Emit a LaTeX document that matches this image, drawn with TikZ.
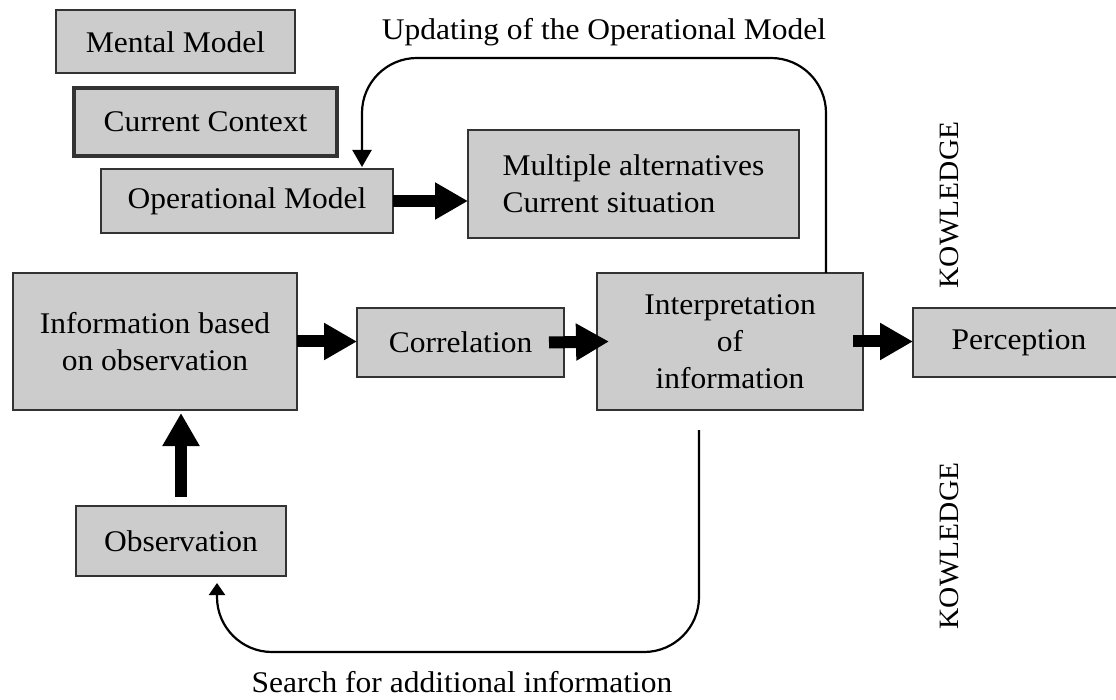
\documentclass[tikz,border=0pt]{standalone}
\usepackage{fontspec}
\setmainfont{Liberation Serif}[FakeStretch=1.05]
\usetikzlibrary{arrows.meta}
\begin{document}
\begin{tikzpicture}[x=1pt,y=-1pt,
  box/.style={draw=black!80,fill=black!20,line width=2pt,inner sep=0pt,outer sep=0pt,
    align=center,font=\fontsize{30}{37}\selectfont},
  lab/.style={inner sep=0pt,font=\fontsize{30}{36}\selectfont},
  klab/.style={inner sep=0pt,font=\fontsize{28}{34}\selectfont,rotate=90,anchor=base},
  bigarrow/.style={line width=12pt,-{Triangle[length=33pt,width=35pt]}},
  thinarrow/.style={line width=2.2pt,rounded corners=55pt,-{Triangle[length=17pt,width=19pt]}},
  smallarrow/.style={line width=2.2pt,rounded corners=55pt,-{Triangle[length=12pt,width=16pt]}}]
\useasboundingbox (0,0) rectangle (1116,700);
\clip (0,0) rectangle (1116,700);
\fill[white] (0,0) rectangle (1116,700);

\node[box,minimum width=239pt,minimum height=63pt] (mental) at (175.5,42) {Mental Model};
\node[box,line width=3.2pt,minimum width=263pt,minimum height=68pt] (context) at (205.5,122) {Current Context};
\node[box,minimum width=292pt,minimum height=64pt] (opm) at (247,201) {Operational Model};
\node[box,minimum width=331pt,minimum height=108pt,align=left] (multi) at (633.5,184) {Multiple alternatives\\Current situation};
\node[box,minimum width=284pt,minimum height=137pt] (info) at (155,341.5) {Information based\\on observation};
\node[box,minimum width=207pt,minimum height=69pt] (corr) at (460.5,342.5) {Correlation};
\node[box,minimum width=266pt,minimum height=137pt] (interp) at (730,341.5) {Interpretation\\of\\information};
\node[box,minimum width=212pt,minimum height=69pt] (perc) at (1019,342.5) {Perception};
\node[box,minimum width=210pt,minimum height=70pt] (obs) at (181,541) {Observation};

\node[lab,anchor=base] (upd) at (604,40) {Updating of the Operational Model};
\node[lab,anchor=base] (search) at (462,692) {Search for additional information};
\node[klab] (k1) at (958,205) {KOWLEDGE};
\node[klab] (k2) at (958,546) {KOWLEDGE};

\draw[bigarrow] (opm.east) -- (opm.east -| multi.west);
\draw[bigarrow] (info.east) -- (info.east -| corr.west);
\draw[bigarrow] ([xshift=-15pt]corr.east) -- ([xshift=12pt]interp.west);
\draw[bigarrow] ([xshift=-10pt]interp.east) -- (interp.east -| perc.west);
\draw[bigarrow] ([yshift=9pt]obs.north) -- ([yshift=-3pt]obs.north |- info.south);

\coordinate (topstart) at ([xshift=96pt]interp.north);
\coordinate (topend) at ([xshift=115pt,yshift=2pt]opm.north);
\draw[thinarrow] (topstart) |- (topend |- 0,58) -- (topend);

\coordinate (botstart) at ([xshift=-31pt,yshift=-20pt]interp.south);
\coordinate (botend) at ([xshift=36pt,yshift=-7pt]obs.south);
\draw[smallarrow] (botstart) |- (botend |- 0,652) -- (botend);
\end{tikzpicture}
\end{document}
